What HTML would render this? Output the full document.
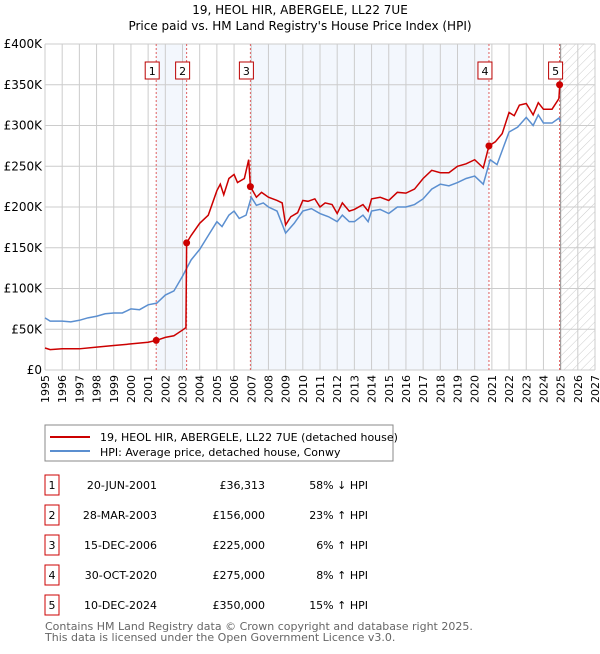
<!DOCTYPE html>
<html><head><meta charset="utf-8"><style>
body{margin:0;background:#fff;font-family:"DejaVu Sans","Liberation Sans",sans-serif;}
svg text{font-family:"DejaVu Sans","Liberation Sans",sans-serif;}
</style></head><body>
<svg id="c" width="600" height="650" xmlns="http://www.w3.org/2000/svg">
<defs><pattern id="hatch" width="6" height="6" patternUnits="userSpaceOnUse" patternTransform="rotate(45)"><line x1="0" y1="0" x2="0" y2="6" stroke="#ccc" stroke-width="1"/></pattern></defs>
<text x="300" y="14" text-anchor="middle" font-size="12">19, HEOL HIR, ABERGELE, LL22 7UE</text>
<text x="300" y="30" text-anchor="middle" font-size="12">Price paid vs. HM Land Registry's House Price Index (HPI)</text>
<g id="plot"></g>
<rect x="45" y="425" width="348" height="36" fill="#fff" stroke="#888"/>
<line x1="50" y1="437" x2="90" y2="437" stroke="#cc0000" stroke-width="2"/>
<text x="100" y="441" font-size="11">19, HEOL HIR, ABERGELE, LL22 7UE (detached house)</text>
<line x1="50" y1="451" x2="90" y2="451" stroke="#5b8fd0" stroke-width="2"/>
<text x="100" y="456" font-size="11">HPI: Average price, detached house, Conwy</text>
<g id="tbl"></g>
<text x="45" y="630" font-size="11" fill="#666">Contains HM Land Registry data © Crown copyright and database right 2025.</text>
<text x="45" y="641" font-size="11" fill="#666">This data is licensed under the Open Government Licence v3.0.</text>
</svg>
<script>
const yearTicks=[1995,1996,1997,1998,1999,2000,2001,2002,2003,2004,2005,2006,2007,2008,2009,2010,2011,2012,2013,2014,2015,2016,2017,2018,2019,2020,2021,2022,2023,2024,2025,2026,2027];
const yTicks=[0,50,100,150,200,250,300,350,400];
const yTickLabels=["£0","£50K","£100K","£150K","£200K","£250K","£300K","£350K","£400K"];
const hpiT=[1995,1995.3,1996,1996.5,1997,1997.5,1998,1998.5,1999,1999.5,2000,2000.5,2001,2001.5,2002,2002.5,2003,2003.5,2004,2004.5,2005,2005.3,2005.7,2006,2006.3,2006.7,2007,2007.3,2007.7,2008,2008.5,2009,2009.5,2010,2010.5,2011,2011.5,2012,2012.3,2012.7,2013,2013.5,2013.8,2014,2014.5,2015,2015.5,2016,2016.5,2017,2017.5,2018,2018.5,2019,2019.5,2020,2020.5,2020.9,2021.3,2021.7,2022,2022.5,2023,2023.4,2023.7,2024,2024.5,2024.9,2025];
const hpiV=[64,60,60,59,61,64,66,69,70,70,75,74,80,82,92,97,115,135,148,165,182,176,190,195,186,190,212,202,205,200,195,168,180,195,198,192,188,182,190,182,182,190,182,195,197,192,200,200,203,210,222,228,226,230,235,238,228,258,252,275,292,298,310,300,313,303,303,309,305];
const ppT=[1995,1995.3,1996,1997,1998,1999,2000,2001,2001.47,2002,2002.5,2003,2003.2,2003.24,2003.5,2004,2004.5,2005,2005.2,2005.4,2005.7,2006,2006.2,2006.6,2006.85,2006.95,2007.3,2007.6,2008,2008.5,2008.8,2009,2009.3,2009.7,2010,2010.3,2010.7,2011,2011.3,2011.7,2012,2012.3,2012.7,2013,2013.5,2013.8,2014,2014.5,2015,2015.5,2016,2016.5,2017,2017.5,2018,2018.5,2019,2019.5,2020,2020.5,2020.83,2021.2,2021.6,2022,2022.3,2022.6,2023,2023.4,2023.7,2024,2024.5,2024.9,2024.95];
const ppV=[27,25,26,26,28,30,32,34,36.3,40,42,49,52,156,165,180,190,220,228,215,235,240,230,235,258,225,212,218,212,208,205,178,188,193,208,207,210,200,205,203,192,205,195,197,203,195,210,212,208,218,217,222,235,245,242,242,250,253,258,248,275,280,290,316,312,325,327,313,328,320,320,333,350];
const saleT=[2001.47,2003.24,2006.95,2020.83,2024.94];
const saleV=[36.313,156,225,275,350];
const saleLabels=["1","2","3","4","5"];
const saleDates=["20-JUN-2001","28-MAR-2003","15-DEC-2006","30-OCT-2020","10-DEC-2024"];
const salePrices=["£36,313","£156,000","£225,000","£275,000","£350,000"];
const saleHpi=["58% ↓ HPI","23% ↑ HPI","6% ↑ HPI","8% ↑ HPI","15% ↑ HPI"];

const X0=45,X1=595,Y0=370,Y1=44;
const x=t=>X0+(t-1995)/(2027-1995)*(X1-X0);
const y=v=>Y0-v/400*(Y0-Y1);
const NS="http://www.w3.org/2000/svg";
function mk(tag,attrs,parent,txt){const e=document.createElementNS(NS,tag);for(const k in attrs)e.setAttribute(k,attrs[k]);if(txt!=null)e.textContent=txt;parent.appendChild(e);return e;}
const P=document.getElementById('plot');
let s=mk('rect',{x:x(saleT[0]),y:Y1,width:x(saleT[1])-x(saleT[0]),height:Y0-Y1,fill:'#eef3fc',opacity:0.7},P);


s=mk('rect',{x:x(saleT[2]),y:Y1,width:x(saleT[3])-x(saleT[2]),height:Y0-Y1,fill:'#eef3fc',opacity:0.7},P);


s=mk('rect',{x:x(2025),y:Y1,width:X1-x(2025),height:Y0-Y1,fill:'url(#hatch)'},P);


yearTicks.forEach(t=>{
  const l=mk('line',{x1:x(t),x2:x(t),y1:Y1,y2:Y0,stroke:'#ccc'},P);
  
  
  const tx=mk('text',{x:0,y:0,'font-size':11,'text-anchor':'end',transform:`translate(${x(t)+4},${Y0+5}) rotate(-90)`},P,String(t));
  
  
});
yTicks.forEach((v,i)=>{
  const l=mk('line',{x1:X0,x2:X1,y1:y(v),y2:y(v),stroke:'#ccc'},P);
  
  
  const tx=mk('text',{x:X0-3,y:y(v)+4,'font-size':12,'text-anchor':'end'},P,yTickLabels[i]);
  
  
});
let ln=mk('line',{x1:x(2025),x2:x(2025),y1:Y1,y2:Y0,stroke:'#999'},P);


saleT.forEach((t,i)=>{
  const l=mk('line',{x1:x(t),x2:x(t),y1:Y1,y2:Y0,stroke:'#e06060','stroke-dasharray':'2,2'},P);
  
  
});
let pts=hpiT.map((t,i)=>x(t)+','+y(hpiV[i])).join(' ');
let pl=mk('polyline',{points:pts,fill:'none',stroke:'#5b8fd0','stroke-width':1.5},P);


pts=ppT.map((t,i)=>x(t)+','+y(ppV[i])).join(' ');
pl=mk('polyline',{points:pts,fill:'none',stroke:'#cc0000','stroke-width':1.5},P);


saleT.forEach((t,i)=>{
  const c=mk('circle',{cx:x(t),cy:y(saleV[i]),r:3.5,fill:'#cc0000'},P);
  
  
  const g=mk('g',{},P);
  
  
  mk('rect',{x:x(t)-11,y:62,width:14,height:17,fill:'#fff',stroke:'#b00'},g);
  mk('text',{x:x(t)-4,y:75,'font-size':11,'text-anchor':'middle'},g,saleLabels[i]);
});
const T=document.getElementById('tbl');
saleT.forEach((t,i)=>{
  const ry=475+i*30;
  const r=mk('rect',{x:45,y:ry,width:14,height:20,fill:'#fff',stroke:'#c00'},T);
  
  
  mk('text',{x:52,y:ry+14,'font-size':11,'text-anchor':'middle'},T,saleLabels[i]);
  const d=mk('text',{x:157,y:ry+14,'font-size':11,'text-anchor':'end'},T,saleDates[i]);
  
  
  const p=mk('text',{x:265,y:ry+14,'font-size':11,'text-anchor':'end'},T,salePrices[i]);
  
  
  const h=mk('text',{x:368,y:ry+14,'font-size':11,'text-anchor':'end'},T,saleHpi[i]);
  
  
});
</script>
</body></html>
